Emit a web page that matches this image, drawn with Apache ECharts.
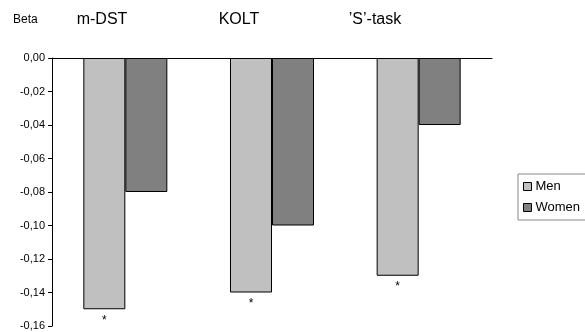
<!DOCTYPE html>
<html>
<head>
<meta charset="utf-8">
<script src="https://cdn.jsdelivr.net/npm/echarts@6/dist/echarts.min.js"></script>
<style>html,body{margin:0;padding:0;background:#fff}#c{width:585px;height:332px}</style>
</head>
<body>
<div id="c"></div>
<script>
const categories = ["m-DST", "KOLT", "'S'-task"];
const titleLabels = ["m-DST", "KOLT", "\u2019S\u2019-task"];
const men = [-0.15, -0.14, -0.13];
const women = [-0.08, -0.10, -0.04];
const significant = ["*", "*", "*"];
const yTicks = { min: -0.16, max: 0, interval: 0.02 };

const chart = echarts.init(document.getElementById('c'));
const font = 'Liberation Sans, Arial, sans-serif';
const titleX = [102, 239, 375];
chart.setOption({
  animation: false,
  textStyle: { fontFamily: font },
  grid: { left: 52, right: 93, top: 58, bottom: 6 },
  graphic: [
    { type: 'text', x: 13, y: 20, style: { text: 'Beta', font: '12px ' + font, fill: '#000', verticalAlign: 'middle' } },
  ].concat(titleLabels.map((t, i) => ({
    type: 'text', x: titleX[i], y: 20,
    style: { text: t, font: '16px ' + font, fill: '#000', align: 'center', verticalAlign: 'middle' }
  }))),
  legend: {
    orient: 'vertical', left: 518, top: 174,
    itemWidth: 8, itemHeight: 8, itemGap: 8,
    borderColor: '#888', borderWidth: 1, padding: [6, 12, 6, 5],
    textStyle: { fontSize: 13, color: '#000', fontFamily: font, padding: [0, 0, 0, -1] },
    data: [
      { name: 'Men', icon: 'rect', itemStyle: { borderColor: '#000', borderWidth: 1 } },
      { name: 'Women', icon: 'rect', itemStyle: { borderColor: '#000', borderWidth: 1 } }
    ]
  },
  xAxis: {
    type: 'category', data: categories, position: 'top',
    axisLine: { lineStyle: { color: '#000', width: 1 } },
    axisTick: { show: false }, axisLabel: { show: false }
  },
  yAxis: {
    type: 'value', min: yTicks.min, max: yTicks.max, interval: yTicks.interval,
    axisLine: { show: true, lineStyle: { color: '#000' } },
    axisTick: { show: true, length: 4, lineStyle: { color: '#000' } },
    splitLine: { show: false },
    axisLabel: { fontSize: 11, color: '#000', margin: 7, formatter: v => v.toFixed(2).replace('.', ',') }
  },
  series: [
    {
      name: 'Men', type: 'bar', data: men, barWidth: 42, barGap: '0%',
      itemStyle: { color: '#c0c0c0', borderColor: '#000', borderWidth: 1 },
      label: { show: true, position: 'bottom', distance: 5, fontSize: 12, color: '#000', formatter: p => significant[p.dataIndex] }
    },
    {
      name: 'Women', type: 'bar', data: women, barWidth: 42, barGap: '0%',
      itemStyle: { color: '#808080', borderColor: '#000', borderWidth: 1 }
    }
  ]
});
</script>
</body>
</html>
